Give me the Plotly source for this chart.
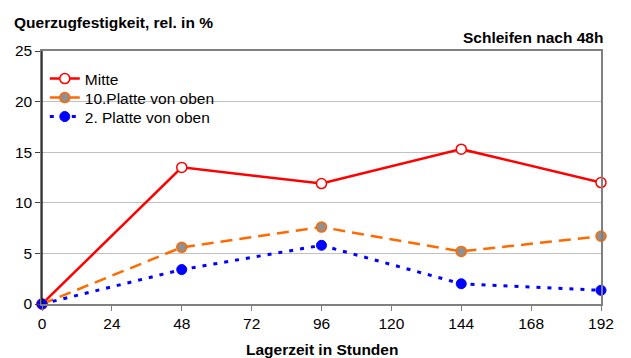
import plotly.graph_objects as go

# Storage time in hours
hours = [0, 48, 96, 144, 192]

# Relative transverse tensile strength (%)
mitte = [0, 13.5, 11.9, 15.3, 12.0]
platte10 = [0, 5.6, 7.6, 5.2, 6.7]
platte2 = [0, 3.4, 5.8, 2.0, 1.35]

x_ticks = [0, 24, 48, 72, 96, 120, 144, 168, 192]
y_ticks = [0, 5, 10, 15, 20, 25]

FONT = "Liberation Sans, Arial, sans-serif"
FS = 15.5
PLOT_L = 42   # plot area left edge in px
PLOT_B = 304  # plot area bottom edge in px
PLOT_H = 253  # plot area height in px
PLOT_W = 559  # plot area width in px


def px_x(px):
    return (px - PLOT_L) / PLOT_W


def px_y(px):
    return (PLOT_B - px) / PLOT_H


fig = go.Figure()

fig.add_trace(go.Scatter(
    x=hours, y=mitte, name="Mitte", mode="lines+markers", legend="legend",
    line=dict(color="#ff0000", width=2.5),
    marker=dict(symbol="circle", size=10, color="white",
                line=dict(color="#ff0000", width=1.5)),
    cliponaxis=False,
))
fig.add_trace(go.Scatter(
    x=hours, y=platte10, name="10.Platte von oben", mode="lines+markers",
    legend="legend2",
    line=dict(color="#ff6a00", width=2.5, dash="12px,7px"),
    marker=dict(symbol="circle", size=10, color="#909090",
                line=dict(color="#ff6a00", width=1.5)),
    cliponaxis=False,
))
fig.add_trace(go.Scatter(
    x=hours, y=platte2, name="2. Platte von oben", mode="lines+markers",
    legend="legend3",
    line=dict(color="#0000ff", width=3, dash="4px,7px"),
    marker=dict(symbol="circle", size=10, color="#0000ff",
                line=dict(color="#0000ff", width=1)),
    cliponaxis=False,
))


def legend_box(center_px):
    return dict(
        x=0.005, y=px_y(center_px), xanchor="left", yanchor="middle",
        bgcolor="rgba(0,0,0,0)", borderwidth=0,
        font=dict(family=FONT, size=FS, color="black"),
        itemwidth=30,
    )


fig.update_layout(
    width=631, height=358,
    margin=dict(l=42, r=30, t=51, b=54),
    paper_bgcolor="white", plot_bgcolor="white",
    font=dict(family=FONT, size=FS, color="black"),
    showlegend=True,
    legend=legend_box(79),
    legend2=legend_box(98),
    legend3=legend_box(117),
    xaxis=dict(
        range=[0, 192], tickvals=x_ticks, ticktext=[str(v) for v in x_ticks],
        showgrid=False, zeroline=False, automargin=False,
        showline=True, linecolor="#808080", linewidth=1.5, mirror=True,
        ticks="outside", ticklen=5, tickcolor="#808080", tickwidth=1,
        tickfont=dict(family=FONT, size=FS),
    ),
    yaxis=dict(
        range=[0, 25], tickvals=y_ticks, ticktext=[str(v) for v in y_ticks],
        showgrid=True, gridcolor="#c0c0c0", gridwidth=1, zeroline=False,
        automargin=False,
        showline=True, linecolor="#808080", linewidth=1.5, mirror=True,
        ticks="outside", ticklen=5, tickcolor="#404040", tickwidth=1,
        tickfont=dict(family=FONT, size=FS),
    ),
    annotations=[
        dict(text="<b>Querzugfestigkeit, rel. in %</b>", xref="paper", yref="paper",
             x=px_x(12), y=px_y(23), xanchor="left", yanchor="middle",
             showarrow=False, font=dict(family=FONT, size=FS)),
        dict(text="<b>Schleifen nach 48h</b>", xref="paper", yref="paper",
             x=px_x(605), y=px_y(37), xanchor="right", yanchor="middle",
             showarrow=False, font=dict(family=FONT, size=FS)),
        dict(text="<b>Lagerzeit in Stunden</b>", xref="paper", yref="paper",
             x=0.5, y=px_y(349), xanchor="center", yanchor="middle",
             showarrow=False, font=dict(family=FONT, size=FS)),
    ],
)

# White legend background: hides the gridline behind the legend entries
fig.add_shape(type="rect", xref="paper", yref="paper", layer="between",
              x0=px_x(43), x1=px_x(226), y0=px_y(108), y1=px_y(68),
              fillcolor="white", line=dict(width=0))

# Dark left axis line drawn over the frame
fig.add_shape(type="line", xref="paper", yref="paper", x0=0, x1=0, y0=0, y1=1,
              line=dict(color="black", width=1.2))

fig.write_html("out.html")
